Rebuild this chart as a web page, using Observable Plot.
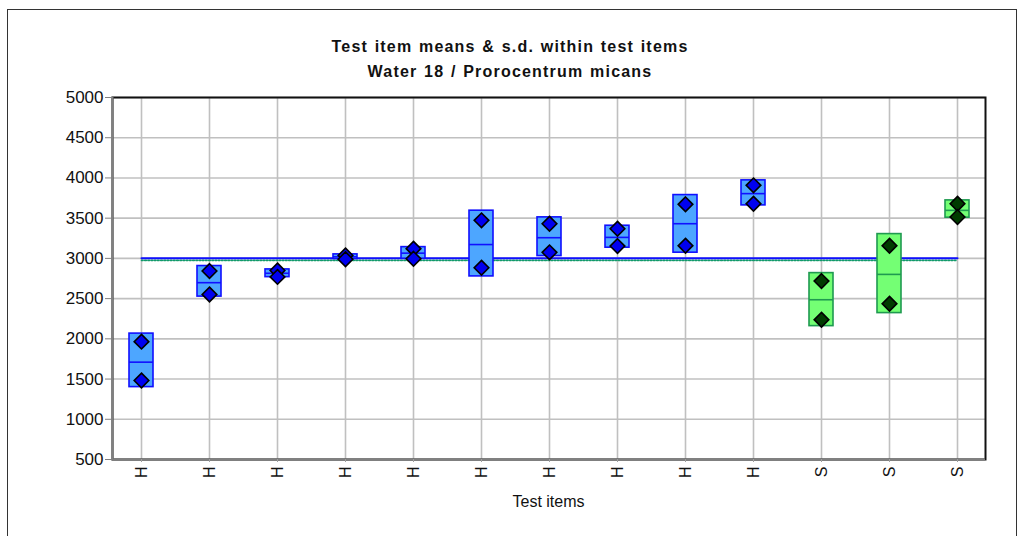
<!DOCTYPE html>
<html>
<head>
<meta charset="utf-8">
<script src="https://cdn.jsdelivr.net/npm/d3@7"></script>
<script src="https://cdn.jsdelivr.net/npm/@observablehq/plot@0.6"></script>
<style>
  html, body { margin: 0; padding: 0; background: #fff; }
  #wrap { position: relative; width: 1020px; height: 536px; overflow: hidden; font-family: "Liberation Sans", Arial, sans-serif; }
  #frame { position: absolute; left: 7px; top: 9px; width: 1010px; height: 600px; border: 1.5px solid #333; box-sizing: border-box; }
  .title { position: absolute; left: 0; width: 1020px; text-align: center; font-weight: bold; font-size: 16px; letter-spacing: 1.2px; word-spacing: 1px; color: #111; }
  #xlabel { position: absolute; left: 112px; width: 873px; top: 493px; text-align: center; font-size: 16px; color: #111; }
  #chart { position: absolute; left: 0; top: 0; }
</style>
</head>
<body>
<div id="wrap">
  <div id="frame"></div>
  <div class="title" style="top:38px">Test item means &amp; s.d. within test items</div>
  <div class="title" style="top:63px">Water 18 / Prorocentrum micans</div>
  <div id="chart"></div>
  <div id="xlabel">Test items</div>
</div>
<script>
// ---- data ----
const itemIds   = [1, 2, 3, 4, 5, 6, 7, 8, 9, 10, 11, 12, 13];
const itemTypes = ["H", "H", "H", "H", "H", "H", "H", "H", "H", "H", "S", "S", "S"];
const itemMeans = [1710, 2698, 2815, 3020, 3065, 3172, 3257, 3261, 3431, 3805, 2486, 2801, 3597];
const boxLow    = [1400, 2525, 2767, 2993, 2996, 2776, 3029, 3133, 3071, 3659, 2158, 2320, 3506];
const boxHigh   = [2065, 2905, 2863, 3050, 3140, 3593, 3510, 3406, 3787, 3970, 2817, 3302, 3721];
const repA      = [1965, 2843, 2850, 3037, 3121, 3473, 3431, 3369, 3672, 3908, 2718, 3158, 3680];
const repB      = [1482, 2552, 2770, 2990, 2995, 2884, 3075, 3153, 3158, 3680, 2238, 2437, 3514];
const assignedValue = 3003;   // solid blue line
const robustMean    = 2975;   // dotted green line
const yTicks = [500, 1000, 1500, 2000, 2500, 3000, 3500, 4000, 4500, 5000];

// ---- styles per type ----
const boxFill    = {H: "#4da6ff", S: "#74ff74"};
const boxStroke  = {H: "#1010ff", S: "#1f9a50"};
const dotFill    = {H: "#0000f0", S: "#003b00"};

const items = itemIds.map((id, i) => ({
  id, type: itemTypes[i], mean: itemMeans[i], low: boxLow[i], high: boxHigh[i]
}));
const reps = itemIds.flatMap((id, i) => [
  {id, type: itemTypes[i], v: repA[i]},
  {id, type: itemTypes[i], v: repB[i]}
]);
const first = itemIds[0], last = itemIds[itemIds.length - 1];
const assignedLine = [{id: first, v: assignedValue}, {id: last, v: assignedValue}];
const robustLine   = [{id: first, v: robustMean}, {id: last, v: robustMean}];

const chart = Plot.plot({
  width: 1020,
  height: 536,
  marginLeft: 112,
  marginRight: 35,
  marginTop: 97,
  marginBottom: 77,
  style: {fontFamily: "'Liberation Sans', Arial, sans-serif", fontSize: "16px", color: "#111", background: "transparent", overflow: "visible"},
  x: {
    type: "band",
    domain: itemIds,
    paddingInner: 0.65,
    paddingOuter: 0.19,
    axis: null
  },
  y: {domain: [500, 5000], axis: null},
  marks: [
    // grid
    Plot.gridY(yTicks, {stroke: "#c0c0c0", strokeOpacity: 1, strokeWidth: 1.6}),
    Plot.gridX(itemIds, {stroke: "#c0c0c0", strokeOpacity: 1, strokeWidth: 1.6}),
    // plot frame: black top/right, grey left/bottom
    Plot.frame({stroke: "#111", strokeWidth: 2}),
    Plot.ruleY([500], {stroke: "#808080", strokeWidth: 2}),
    Plot.frame({anchor: "left", stroke: "#808080", strokeWidth: 2}),
    // reference lines
    Plot.lineY(robustLine, {x: "id", y: "v", stroke: "#129a6a", strokeWidth: 1.6, strokeDasharray: "1.6,1.6"}),
    Plot.lineY(assignedLine, {x: "id", y: "v", stroke: "#1010ff", strokeWidth: 2}),
    // s.d. boxes
    Plot.barY(items, {x: "id", y1: "low", y2: "high", fill: d => boxFill[d.type], stroke: d => boxStroke[d.type], strokeWidth: 1.6}),
    Plot.tickY(items, {x: "id", y: "mean", stroke: d => boxStroke[d.type], strokeWidth: 1.6}),
    // replicate values
    Plot.dot(reps, {x: "id", y: "v", symbol: "diamond2", r: 6.6, fill: d => dotFill[d.type], stroke: "#000", strokeWidth: 1.6}),
    // axes
    Plot.axisY(yTicks, {tickSize: 7, tickPadding: 2, stroke: "#808080", fontSize: 17, fill: "#111", tickFormat: d => String(d)}),
    Plot.axisX(itemIds, {tickSize: 3, tickPadding: 4, tickRotate: -90, stroke: "#a0a0a0", fontSize: 16, fill: "#111",
      tickFormat: d => itemTypes[itemIds.indexOf(d)], label: null})
  ]
});
document.getElementById("chart").appendChild(chart);
</script>
</body>
</html>
